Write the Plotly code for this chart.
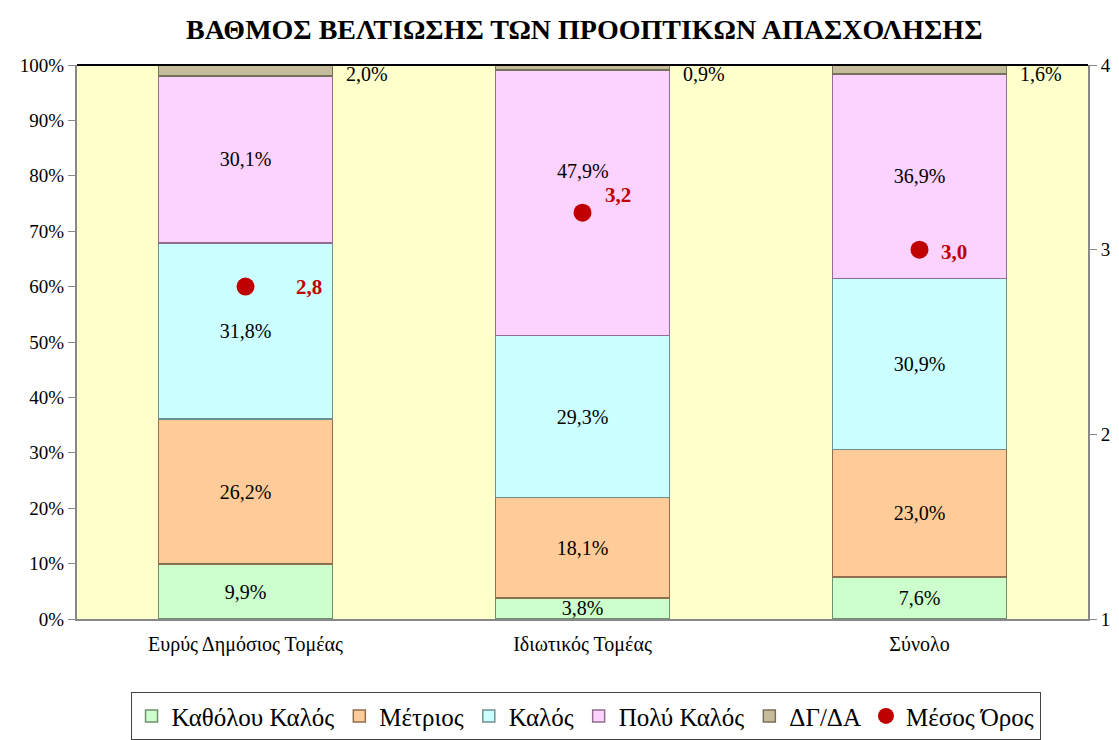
import plotly.graph_objects as go

categories = ["Ευρύς Δημόσιος Τομέας", "Ιδιωτικός Τομέας", "Σύνολο"]
series_names = ["Καθόλου Καλός", "Μέτριος", "Καλός", "Πολύ Καλός", "ΔΓ/ΔΑ"]
kathol = [9.9, 3.8, 7.6]
metrios = [26.2, 18.1, 23.0]
kalos = [31.8, 29.3, 30.9]
poly = [30.1, 47.9, 36.9]
dgda = [2.0, 0.9, 1.6]
mean_vals = [2.8, 3.2, 3.0]

series_values = [kathol, metrios, kalos, poly, dgda]
fills = ["#CCFFCC", "#FFCC99", "#CCFFFF", "#FCD2FF", "#C4BC9A"]
edges = ["#6F906F", "#8F6F4F", "#6F9090", "#906F90", "#77705A"]

FONT = "Liberation Serif"

def fmt(v, d=1):
    return f"{v:.{d}f}".replace(".", ",")

fig = go.Figure()
for name, vals, fc, ec in zip(series_names, series_values, fills, edges):
    is_dg = name == "ΔΓ/ΔΑ"
    if is_dg:
        texts = None
    elif name == "Πολύ Καλός":
        texts = [fmt(v) + "%" if i != 1 else "" for i, v in enumerate(vals)]
    else:
        texts = [fmt(v) + "%" for v in vals]
    fig.add_trace(go.Bar(
        x=categories, y=[v / 100 for v in vals], name=name,
        marker=dict(color=fc, line=dict(color=ec, width=1.5)),
        text=texts,
        textposition="inside", insidetextanchor="middle", textangle=0,
        textfont=dict(family=FONT, size=20, color="black"),
        constraintext="none",
        hoverinfo="skip",
    ))

fig.add_trace(go.Scatter(
    x=categories, y=mean_vals, name="Μέσος Όρος", yaxis="y2", mode="markers",
    marker=dict(color="#C00000", size=18),
))

# label of the private-sector "Πολύ Καλός" segment, moved up above the mean marker
base2 = (kathol[1] + metrios[1] + kalos[1]) / 100
fig.add_annotation(x=categories[1], y=base2 + poly[1] / 200, xref="x", yref="y",
                   text=fmt(poly[1]) + "%", showarrow=False, yshift=32,
                   font=dict(family=FONT, size=20, color="black"))

# DG/DA labels outside the bar on the right
for i, c in enumerate(categories):
    fig.add_annotation(x=c, y=1.0, xref="x", yref="y",
                       text=fmt(dgda[i]) + "%", showarrow=False,
                       xanchor="left", yanchor="top", xshift=98, yshift=4,
                       font=dict(family=FONT, size=20, color="black"))

# mean labels
shifts = [(48, 0), (20, 18), (19, -2)]
for i, c in enumerate(categories):
    fig.add_annotation(x=c, y=mean_vals[i], xref="x", yref="y2",
                       text="<b>" + fmt(mean_vals[i]) + "</b>", showarrow=False,
                       xanchor="left", xshift=shifts[i][0], yshift=shifts[i][1],
                       font=dict(family=FONT, size=21, color="#C00000"))

fig.add_shape(type="line", xref="paper", yref="paper", x0=0, x1=1, y0=1, y1=1,
              line=dict(color="black", width=2))

fig.update_layout(
    width=1119, height=740,
    margin=dict(l=69, r=39, t=57, b=129, autoexpand=False),
    barmode="stack", bargap=0.485,
    paper_bgcolor="white", plot_bgcolor="#FFFFCC",
    font=dict(family=FONT, size=19, color="black"),
    title=dict(text="<b>ΒΑΘΜΟΣ ΒΕΛΤΙΩΣΗΣ ΤΩΝ ΠΡΟΟΠΤΙΚΩΝ ΑΠΑΣΧΟΛΗΣΗΣ</b>",
               x=0.515, xanchor="center", y=0.972, yanchor="middle",
               font=dict(family=FONT, size=28, color="black")),
    xaxis=dict(showline=True, linecolor="#888888", linewidth=2, ticks="",
               tickfont=dict(family=FONT, size=20), showgrid=False,
               ticklabelstandoff=6),
    yaxis=dict(range=[0, 1], dtick=0.1, tickformat=".0%", showgrid=False,
               showline=True, linecolor="#888888", linewidth=2, ticks="outside",
               ticklen=7, tickcolor="#888888", tickfont=dict(family=FONT, size=19),
               zeroline=False),
    yaxis2=dict(range=[1, 4], dtick=1, overlaying="y", side="right", showgrid=False,
                showline=True, linecolor="#888888", linewidth=2, ticks="outside",
                ticklen=7, tickcolor="#888888", tickfont=dict(family=FONT, size=19),
                zeroline=False),
    legend=dict(orientation="h", x=0.503, xanchor="center", y=-0.132, yanchor="top",
                bordercolor="#444444", borderwidth=1, bgcolor="white",
                font=dict(family=FONT, size=25), itemwidth=30,
                traceorder="normal"),
    showlegend=True,
)

fig.write_html("out.html")
